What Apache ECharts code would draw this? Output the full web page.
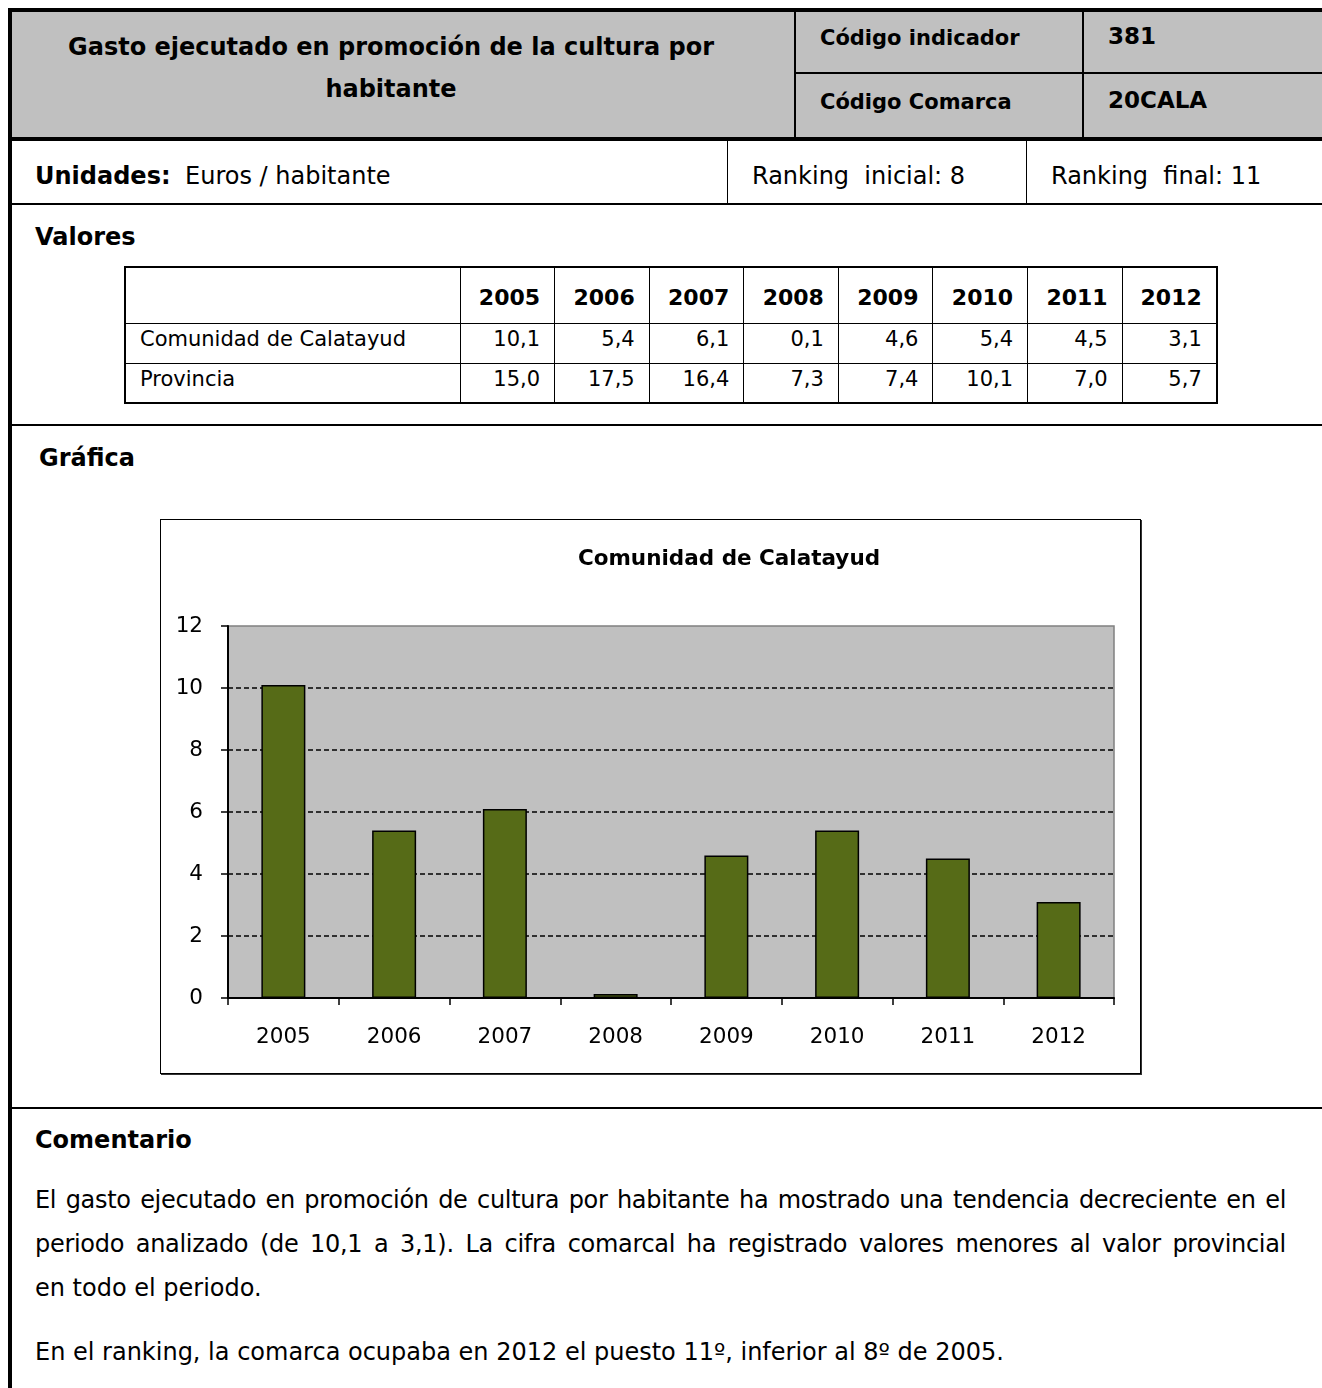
<!DOCTYPE html>
<html>
<head>
<meta charset="utf-8">
<script src="https://cdn.jsdelivr.net/npm/echarts@6/dist/echarts.min.js"></script>
<style>
  html, body { margin:0; padding:0; background:#fff; }
  body { width:1322px; height:1388px; position:relative; overflow:hidden;
         font-family:"DejaVu Sans", Verdana, sans-serif; color:#000; }
  .abs { position:absolute; white-space:nowrap; }
  .b { font-weight:bold; }
  .line { position:absolute; background:#000; }
  #vtable { position:absolute; left:124px; top:266px; border-collapse:collapse;
            border:2px solid #000; font-size:21px; }
  #vtable td { border:1px solid #000; padding:0 14px; box-sizing:border-box; }
  #vtable td.num { text-align:right; }
  #vtable tr.h td { font-weight:bold; font-size:22px; text-align:right; height:56px; padding-top:4px; }
  #vtable tr.r td { height:40px; vertical-align:top; line-height:30px; }
  #chartWrap { position:absolute; left:160px; top:519px; width:981px; height:555px;
               box-sizing:border-box; border:1px solid #000; box-shadow:1px 1px 0 #333; }
  #chart { position:absolute; left:0; top:0; width:979px; height:553px; }
  .pl { position:absolute; left:35px; width:1251px; font-size:24px; line-height:44px;
        white-space:nowrap; }
  .just { text-align:justify; text-align-last:justify; letter-spacing:-0.3px; }
</style>
</head>
<body>
<script>
// ---- data ----
const years = ['2005','2006','2007','2008','2009','2010','2011','2012'];
const comarcaValues = [10.1, 5.4, 6.1, 0.1, 4.6, 5.4, 4.5, 3.1];
const provinciaValues = [15.0, 17.5, 16.4, 7.3, 7.4, 10.1, 7.0, 5.7];
const rowNames = ['Comunidad de Calatayud', 'Provincia'];
const chartTitle = 'Comunidad de Calatayud';
const yMin = 0, yMax = 12, yInterval = 2;
</script>

<!-- header background -->
<div style="position:absolute;left:12px;top:12px;width:1310px;height:125px;background:#C0C0C0;"></div>
<!-- outer frame -->
<div class="line" style="left:8px;top:8px;width:4px;height:1380px;"></div>
<div class="line" style="left:8px;top:8px;width:1314px;height:4px;"></div>
<div class="line" style="left:8px;top:137px;width:1314px;height:4px;"></div>
<div class="line" style="left:794px;top:12px;width:2px;height:125px;"></div>
<div class="line" style="left:1082px;top:12px;width:2px;height:125px;"></div>
<div class="line" style="left:794px;top:72px;width:528px;height:2px;"></div>

<div class="abs b" style="left:12px;top:32px;width:758px;text-align:center;font-size:24px;line-height:30px;">Gasto ejecutado en promoción de la cultura por</div>
<div class="abs b" style="left:12px;top:74px;width:758px;text-align:center;font-size:24px;line-height:30px;">habitante</div>
<div class="abs b" style="left:820px;top:23px;font-size:21px;line-height:30px;">Código indicador</div>
<div class="abs b" style="left:1108px;top:21px;font-size:23px;line-height:30px;">381</div>
<div class="abs b" style="left:820px;top:87px;font-size:21px;line-height:30px;">Código Comarca</div>
<div class="abs b" style="left:1108px;top:85px;font-size:23px;line-height:30px;">20CALA</div>

<!-- units row -->
<div class="line" style="left:727px;top:141px;width:1px;height:63px;"></div>
<div class="line" style="left:1026px;top:141px;width:1px;height:63px;"></div>
<div class="line" style="left:12px;top:203px;width:1310px;height:2px;"></div>
<div class="abs b" style="left:35px;top:161px;font-size:24px;line-height:30px;">Unidades:</div>
<div class="abs" style="left:185px;top:161px;font-size:24px;line-height:30px;">Euros / habitante</div>
<div class="abs" style="left:752px;top:161px;font-size:24px;line-height:30px;">Ranking&nbsp; inicial: 8</div>
<div class="abs" style="left:1051px;top:161px;font-size:24px;line-height:30px;">Ranking&nbsp; final: 11</div>

<div class="abs b" style="left:35px;top:222px;font-size:24px;line-height:30px;">Valores</div>
<table id="vtable"></table>

<div class="line" style="left:12px;top:424px;width:1310px;height:2px;"></div>
<div class="abs b" style="left:39px;top:443px;font-size:24px;line-height:30px;">Gráfica</div>

<div id="chartWrap"><div id="chart"></div></div>

<div class="line" style="left:12px;top:1107px;width:1310px;height:2px;"></div>
<div class="abs b" style="left:35px;top:1125px;font-size:24px;line-height:30px;">Comentario</div>
<div class="pl just" style="top:1178px;">El gasto ejecutado en promoción de cultura por habitante ha mostrado una tendencia decreciente en el</div>
<div class="pl just" style="top:1222px;">periodo analizado (de 10,1 a 3,1). La cifra comarcal ha registrado valores menores al valor provincial</div>
<div class="pl" style="top:1266px;">en todo el periodo.</div>
<div class="pl" style="top:1330px;">En el ranking, la comarca ocupaba en 2012 el puesto 11º, inferior al 8º de 2005.</div>

<script>
// ---- build values table ----
(function(){
  const t = document.getElementById('vtable');
  const fmt = v => v.toFixed(1).replace('.', ',');
  let html = '<colgroup><col style="width:335px">' + years.map(()=>'<col style="width:94.6px">').join('') + '</colgroup>';
  html += '<tr class="h"><td></td>' + years.map(y => '<td>' + y + '</td>').join('') + '</tr>';
  [comarcaValues, provinciaValues].forEach((vals, i) => {
    html += '<tr class="r"><td>' + rowNames[i] + '</td>' + vals.map(v => '<td class="num">' + fmt(v) + '</td>').join('') + '</tr>';
  });
  t.innerHTML = html;
})();

// ---- chart ----
const nSplit = Math.round((yMax - yMin) / yInterval) + 1;
const splitColors = [];
for (let i = 0; i < nSplit; i++) splitColors.push(i === nSplit - 1 ? 'rgba(0,0,0,0)' : '#000');

const chart = echarts.init(document.getElementById('chart'), null, {renderer:'canvas'});
chart.setOption({
  animation: false,
  backgroundColor: '#fff',
  textStyle: { fontFamily: '"DejaVu Sans", Verdana, sans-serif' },
  graphic: [{
    type: 'text', x: 568, y: 39,
    style: { text: chartTitle, textAlign: 'center', textVerticalAlign: 'middle',
             font: 'bold 21.5px "DejaVu Sans", Verdana, sans-serif', fill: '#000' }
  }],
  grid: { left: 67, top: 106, right: 26, bottom: 75, show: true,
          backgroundColor: '#C0C0C0', borderColor: '#808080', borderWidth: 1.5 },
  xAxis: {
    type: 'category', data: years, boundaryGap: true,
    axisLine: { lineStyle: { color: '#000', width: 2 } },
    axisTick: { show: true, length: 7, lineStyle: { color: '#000', width: 1.5 } },
    axisLabel: { color: '#000', fontSize: 21.5, margin: 28 }
  },
  yAxis: {
    type: 'value', min: yMin, max: yMax, interval: yInterval,
    axisLine: { show: true, lineStyle: { color: '#000', width: 2 } },
    axisTick: { show: true, length: 7, lineStyle: { color: '#000', width: 1.5 } },
    axisLabel: { color: '#000', fontSize: 21.5, margin: 25 },
    splitLine: { show: true, lineStyle: { color: splitColors, type: [5, 3], width: 1.5 } }
  },
  series: [{
    type: 'bar', data: comarcaValues, barWidth: 44, barMinHeight: 4,
    itemStyle: { color: '#566B17', borderColor: '#000', borderWidth: 1.5 }
  }]
});
</script>
</body>
</html>
